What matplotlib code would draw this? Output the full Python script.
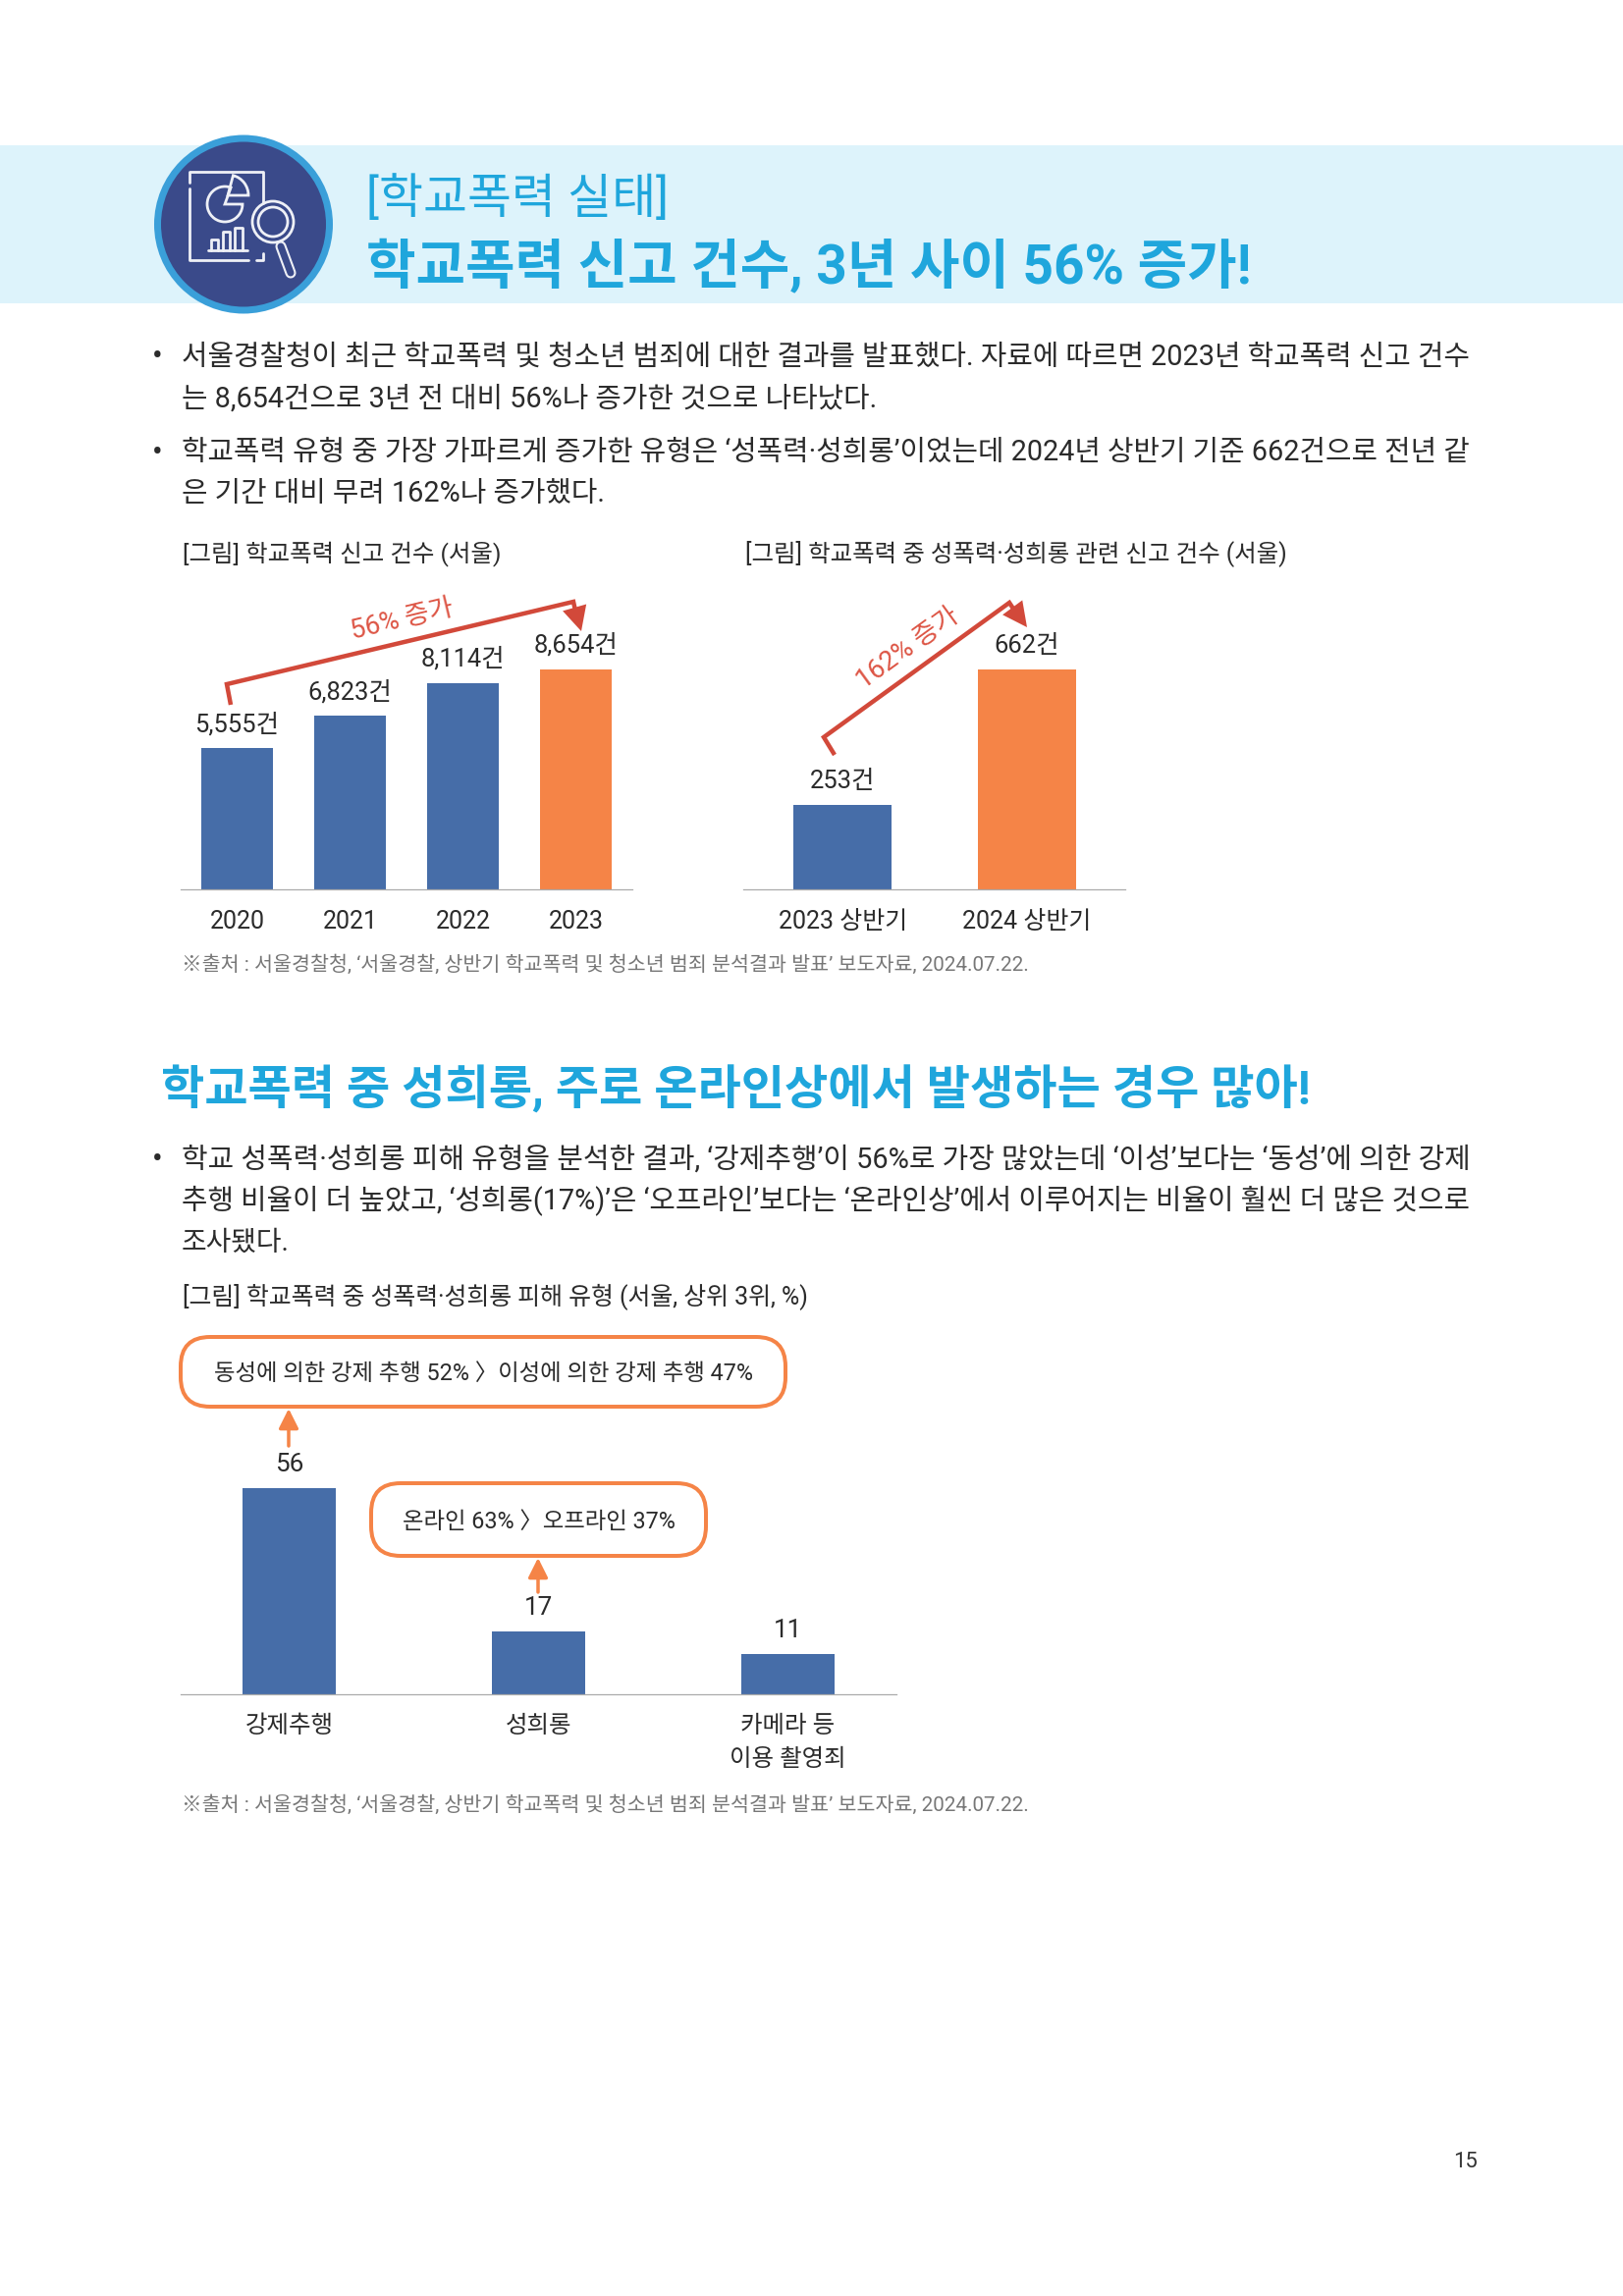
import matplotlib
matplotlib.use('Agg')
import matplotlib.pyplot as plt
from matplotlib.patches import Circle, Wedge, Rectangle, FancyBboxPatch

plt.rcParams['font.family'] = ['Roboto', 'Noto Sans CJK KR', 'DejaVu Sans']

# --- datos ---
years = ['2020', '2021', '2022', '2023']
reports = [5555, 6823, 8114, 8654]
report_labels = ['5,555건', '6,823건', '8,114건', '8,654건']

halves = ['2023 상반기', '2024 상반기']
sexual_reports = [253, 662]
sexual_labels = ['253건', '662건']

types = ['강제추행', '성희롱', '카메라 등\n이용 촬영죄']
type_share = [56, 17, 11]

BLUE = '#466DA8'
ORANGE = '#F58447'
RED = '#D2493A'
CYAN = '#1FA6DC'
AXIS = '#ABABAB'
DARK = '#2B2B2B'

W, H = 1653, 2339
fig = plt.figure(figsize=(W / 100, H / 100), dpi=100, facecolor='white')
page = fig.add_axes([0, 0, 1, 1], zorder=0)
page.set_xlim(0, W)
page.set_ylim(H, 0)
page.axis('off')
renderer = fig.canvas.get_renderer()


def px(size):
    return size * 0.72


def fit(txt, x0, x1, y, size=22, color=DARK, **kw):
    # ajusta el cuerpo de letra para que la linea vaya de x0 a x1
    t = page.text(x0, y, txt, fontsize=px(size), color=color, va='center', ha='left', **kw)
    w = t.get_window_extent(renderer).width
    t.set_fontsize(px(size) * (x1 - x0) / w)
    return t


def chart(rect, values, labels, colors, ticks, xlim, width, top, offset, label_size, tick_size, pad, spacing=1.15):
    x, y0, x1, y1 = rect
    ax = fig.add_axes([x / W, 1 - y0 / H, (x1 - x) / W, (y0 - y1) / H], zorder=1)
    ax.patch.set_alpha(0)
    pos = list(range(len(values)))
    ax.bar(pos, values, width=width, color=colors)
    ax.set_xlim(*xlim)
    ax.set_ylim(0, top)
    for s in ['top', 'left', 'right']:
        ax.spines[s].set_visible(False)
    ax.spines['bottom'].set_color(AXIS)
    ax.spines['bottom'].set_linewidth(0.9)
    ax.set_yticks([])
    ax.set_xticks(pos)
    ax.set_xticklabels(ticks, fontsize=px(tick_size), color=DARK, linespacing=spacing)
    ax.tick_params(axis='x', length=0, pad=px(pad))
    for i, v in enumerate(values):
        ax.annotate(labels[i], (i, v), xytext=(0, offset), textcoords='offset pixels',
                    ha='center', va='center', fontsize=px(label_size), color=DARK)
    return ax


def red_arrow(points, tip):
    page.plot(*zip(*points), color=RED, lw=px(4.5), solid_joinstyle='miter', solid_capstyle='butt')
    page.annotate('', xy=tip, xytext=points[-1],
                  arrowprops=dict(arrowstyle='-|>,head_length=0.9,head_width=0.45', color=RED,
                                  lw=0, mutation_scale=20, shrinkA=0, shrinkB=0))


def callout(x0, y0, x1, y1, txt, tx0, tx1, ty):
    page.add_patch(FancyBboxPatch((x0 + 30, y0 + 30), x1 - x0 - 60, y1 - y0 - 60,
                                  boxstyle='round,pad=30,rounding_size=30', fc='white',
                                  ec=ORANGE, lw=px(4)))
    fit(txt, tx0, tx1, ty, size=21)


def up_arrow(x, y0, y1):
    page.annotate('', xy=(x, y1), xytext=(x, y0),
                  arrowprops=dict(arrowstyle='-|>,head_length=0.8,head_width=0.4', color=ORANGE,
                                  lw=px(3.5), mutation_scale=15, shrinkA=0, shrinkB=0))


# --- cabecera ---
page.add_patch(Rectangle((0, 148), W, 161, color='#DDF3FB', lw=0))
page.add_patch(Circle((248, 228.5), 91, color='#3A9FD9', lw=0))
page.add_patch(Circle((248, 228.5), 84, color='#3A4A8A', lw=0))
icon = dict(color='#EEF0F6', lw=2, solid_capstyle='round')
page.plot([193, 193, 268, 268], [186, 175, 175, 207], **icon)
page.plot([193, 193, 253], [192, 265, 265], **icon)
page.plot([261, 268, 268], [265, 265, 258], **icon)
page.add_patch(Wedge((229, 208), 18, 0, 290, fc='none', ec='#EEF0F6', lw=2))
page.add_patch(Wedge((232, 199), 21, 285, 360, fc='none', ec='#EEF0F6', lw=2))
page.plot([212, 252], [255, 255], **icon)
page.plot([215, 215, 222, 222], [255, 244, 244, 255], **icon)
page.plot([227, 227, 234, 234], [255, 236, 236, 255], **icon)
page.plot([239, 239, 247, 247], [255, 232, 232, 255], **icon)
page.add_patch(Circle((278, 226), 21, fc='#3A4A8A', ec='#EEF0F6', lw=2))
page.add_patch(Circle((278, 226), 15, fc='none', ec='#EEF0F6', lw=2))
page.plot([286, 296], [251, 278], color='#EEF0F6', lw=8, solid_capstyle='round')
page.plot([286, 296], [251, 278], color='#3A4A8A', lw=5, solid_capstyle='round')

fit('[학교폭력 실태]', 373, 681, 203, size=44, color=CYAN)
fit('학교폭력 신고 건수, 3년 사이 56% 증가!', 373, 1275, 271, size=48, color=CYAN, fontweight='bold')

# --- texto ---
page.text(160, 364, '•', fontsize=px(32), color=DARK, ha='center', va='center')
fit('서울경찰청이 최근 학교폭력 및 청소년 범죄에 대한 결과를 발표했다. 자료에 따르면 2023년 학교폭력 신고 건수', 185, 1499, 364)
fit('는 8,654건으로 3년 전 대비 56%나 증가한 것으로 나타났다.', 185, 893, 406)
page.text(160, 461, '•', fontsize=px(32), color=DARK, ha='center', va='center')
fit('학교폭력 유형 중 가장 가파르게 증가한 유형은 ‘성폭력·성희롱’이었는데 2024년 상반기 기준 662건으로 전년 같', 185, 1496, 461)
fit('은 기간 대비 무려 162%나 증가했다.', 185, 616, 503)

fit('[그림] 학교폭력 신고 건수 (서울)', 186, 510, 564, size=20)
fit('[그림] 학교폭력 중 성폭력·성희롱 관련 신고 건수 (서울)', 759, 1311, 564, size=20)

source = '※출처 : 서울경찰청, ‘서울경찰, 상반기 학교폭력 및 청소년 범죄 분석결과 발표’ 보도자료, 2024.07.22.'
fit(source, 185, 1044, 983, size=18, color='#777777')

fit('학교폭력 중 성희롱, 주로 온라인상에서 발생하는 경우 많아!', 164, 1337, 1111, size=44, color=CYAN, fontweight='bold')

page.text(160, 1181, '•', fontsize=px(32), color=DARK, ha='center', va='center')
fit('학교 성폭력·성희롱 피해 유형을 분석한 결과, ‘강제추행’이 56%로 가장 많았는데 ‘이성’보다는 ‘동성’에 의한 강제', 185, 1497, 1181)
fit('추행 비율이 더 높았고, ‘성희롱(17%)’은 ‘오프라인’보다는 ‘온라인상’에서 이루어지는 비율이 훨씬 더 많은 것으로', 185, 1497, 1223)
fit('조사됐다.', 185, 295, 1266)
fit('[그림] 학교폭력 중 성폭력·성희롱 피해 유형 (서울, 상위 3위, %)', 186, 825, 1321, size=20)
fit(source, 185, 1044, 1839, size=18, color='#777777')

page.text(1493, 2203, '15', fontsize=px(22), color='#333333', ha='center', va='center')

# --- graficos ---
chart((184, 906, 644, 681.5), reports, report_labels, [BLUE, BLUE, BLUE, ORANGE], years,
      (-0.5, 3.5), 0.63, 8654, 24, 25.5, 25, 21)
chart((757, 906, 1146, 682), sexual_reports, sexual_labels, [BLUE, ORANGE], halves,
      (-0.541, 1.533), 0.533, 662, 24, 25.5, 25, 21)
chart((184, 1726, 913, 1516), type_share, [str(v) for v in type_share], [BLUE, BLUE, BLUE], types,
      (-0.435, 2.435), 0.375, 56, 24, 26, 24.5, 21, spacing=1.6)

red_arrow([(235, 718), (231, 697), (584, 613), (586, 622)], (592, 643))
page.text(410, 631, '56% 증가', fontsize=px(27), color='#DD5545', rotation=13.5,
          ha='center', va='center', rotation_mode='anchor')
red_arrow([(850, 769), (839, 751), (1028, 614), (1032, 620)], (1046, 639))
page.text(925, 660, '162% 증가', fontsize=px(27), color='#DD5545', rotation=36,
          ha='center', va='center', rotation_mode='anchor')

callout(184, 1362, 800, 1433, '동성에 의한 강제 추행 52% 〉이성에 의한 강제 추행 47%', 218, 767, 1399)
callout(378, 1511, 719, 1585, '온라인 63% 〉오프라인 37%', 410, 688, 1550)
up_arrow(294, 1473, 1435)
up_arrow(548, 1622, 1587)

fig.savefig('out.png', dpi=100)
